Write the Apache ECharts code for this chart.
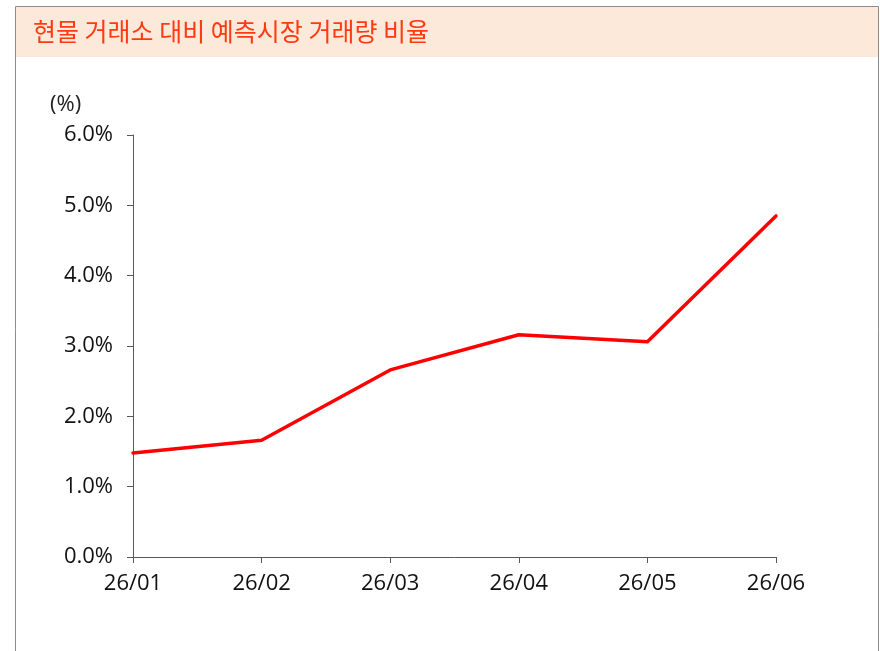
<!DOCTYPE html>
<html><head><meta charset="utf-8">
<script src="https://cdn.jsdelivr.net/npm/echarts@6/dist/echarts.min.js"></script>
<style>html,body{margin:0;padding:0;background:#fff}#c{width:880px;height:651px}</style>
</head><body><div id="c"></div>
<script>
const categories = ['26/01','26/02','26/03','26/04','26/05','26/06'];
const ratioValues = [1.48, 1.66, 2.66, 3.16, 3.06, 4.85];
const titleText = '현물 거래소 대비 예측시장 거래량 비율';
const unitLabel = '(%)';

const chart = echarts.init(document.getElementById('c'), null, {renderer:'canvas'});
const font = '"Open Sans", "Noto Sans", sans-serif';
chart.setOption({
  animation: false,
  backgroundColor: '#fff',
  graphic: [
    {type:'rect', shape:{x:15.5, y:6.5, width:863, height:660}, style:{fill:'#fff', stroke:'#8c8c8c', lineWidth:1}, z:-10},
    {type:'rect', shape:{x:16, y:7, width:862, height:50}, style:{fill:'#fde9d9'}, z:-9},
    {type:'text', left:33, top:19, style:{text:titleText, fill:'#ff3a12', font:'25px "Noto Sans CJK KR", sans-serif'}},
    {type:'text', left:50, top:94, style:{text:unitLabel, fill:'#222', font:'22px ' + font}}
  ],
  grid: {left:133, right:104, top:135, bottom:94, containLabel:false},
  xAxis: {
    type:'category', data:categories, boundaryGap:false,
    axisLine:{lineStyle:{color:'#595959', width:1}},
    axisTick:{show:true, length:6, lineStyle:{color:'#595959'}},
    axisLabel:{color:'#111', fontSize:22, fontFamily:font, margin:16}
  },
  yAxis: {
    type:'value', min:0, max:6, interval:1,
    axisLine:{show:true, lineStyle:{color:'#595959', width:1}},
    axisTick:{show:true, length:6, lineStyle:{color:'#595959'}},
    splitLine:{show:false},
    axisLabel:{color:'#111', fontSize:22, fontFamily:font, margin:20, formatter: v => v.toFixed(1) + '%'}
  },
  series: [{
    type:'line', data:ratioValues, symbol:'none',
    lineStyle:{color:'#ff0000', width:3.5, cap:'round', join:'round'}
  }]
});
</script></body></html>
